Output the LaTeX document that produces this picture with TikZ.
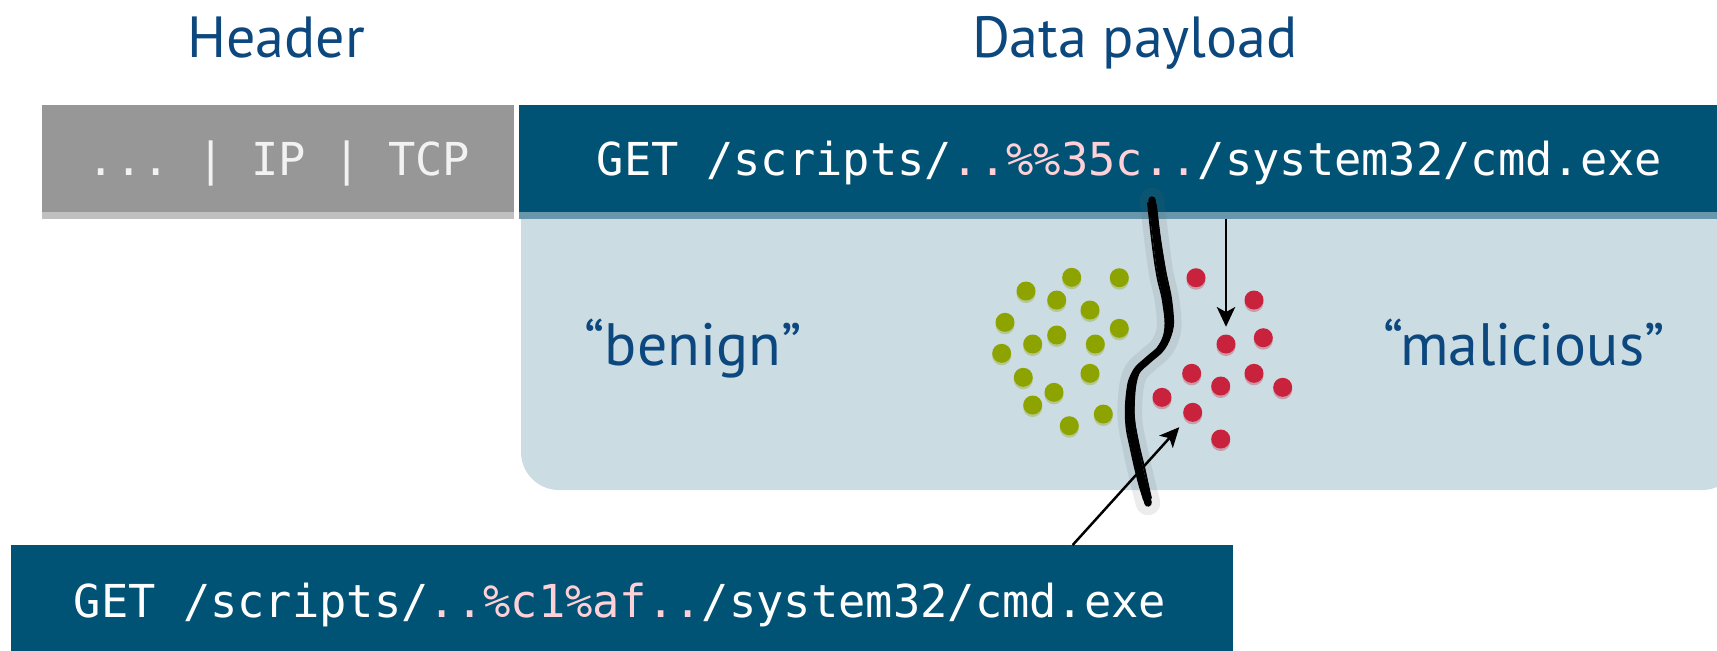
\documentclass[tikz,border=0pt]{standalone}
\usepackage{fontspec}
\setmainfont{PT Sans}
\setmonofont{DejaVu Sans Mono}
\usetikzlibrary{arrows.meta,calc}

\definecolor{barblue}{RGB}{0,83,116}
\definecolor{stripblue}{RGB}{104,151,171}
\definecolor{paneblue}{RGB}{203,220,227}
\definecolor{hdrgray}{RGB}{151,151,151}
\definecolor{stripgray}{RGB}{192,192,192}
\definecolor{titleblue}{RGB}{12,72,126}
\definecolor{hilite}{RGB}{255,208,216}
\definecolor{hdrtext}{RGB}{242,242,242}
\definecolor{benigngreen}{RGB}{141,164,0}
\definecolor{malred}{RGB}{200,34,60}

\tikzset{
  mono/.style={font=\fontsize{12.9}{15}\selectfont\ttfamily, anchor=base, inner sep=0pt},
  title/.style={font=\fontsize{16.5}{20}\selectfont, text=titleblue, anchor=base, inner sep=0pt},
  classlabel/.style={font=\fontsize{17}{21}\selectfont, text=titleblue, anchor=base, inner sep=0pt},
  panelbox/.style={anchor=north west, inner sep=0pt, outer sep=0pt},
  gdot/.style={circle, fill=benigngreen, minimum size=0.19cm, inner sep=0pt},
  rdot/.style={circle, fill=malred, minimum size=0.19cm, inner sep=0pt},
  conn/.style={-{Stealth[length=5.6pt,width=5.2pt,inset=1.4pt]}, line width=0.7pt, black},
  stroke/.style={black, line cap=round},
}

\begin{document}
\begin{tikzpicture}[x=0.01cm, y=-0.01cm]
\useasboundingbox (0,0) rectangle (1717,650);

% column titles
\node[title] (thdr) at (276,57) {Header};
\node[title] (tpay) at (1135,57) {Data payload};

% light panel below the payload bar
\fill[paneblue] (521,219) -- (521,452) arc[start angle=180, end angle=270, radius=0.38cm]
  -- (1702,490) arc[start angle=270, end angle=360, radius=0.38cm] -- (1740,219) -- cycle;

% header block
\node[panelbox, fill=stripgray, minimum width=4.72cm, minimum height=1.14cm] (hdr) at (41.5,105) {};
\fill[hdrgray] (hdr.north west) rectangle ([yshift=0.07cm]hdr.south east);
\node[mono, text=hdrtext] (hdrtxt) at (279,175) {... | IP | TCP};

% payload bar
\node[panelbox, fill=stripblue, minimum width=12.2cm, minimum height=1.14cm] (bar) at (519,105) {};
\fill[barblue] (bar.north west) rectangle ([yshift=0.07cm]bar.south east);
\node[mono, text=white] (bartxt) at (1129.5,175)
  {GET /scripts/{\color{hilite}..\%\%35c..}/system32/cmd.exe};

% class labels
\node[classlabel] (lben) at (693,365) {“benign”};
\node[classlabel] (lmal) at (1524,365) {“malicious”};

% benign samples
\foreach \x/\y [count=\i] in {1071.7/277.3, 1119.3/277.7, 1026/291, 1056.7/300, 1090/310,
    1005/322.3, 1119.3/328.3, 1056.7/335, 1032.7/344, 1095.3/344, 1001.7/353.3,
    1023.3/377.3, 1090/373.3, 1054/392.3, 1032.7/405, 1103.3/414, 1069.3/425.7} {
  \fill[benigngreen!35!paneblue] (\x,\y+2.5) circle (0.095cm);
  \node[gdot] (g\i) at (\x,\y) {};
}

% malicious samples
\foreach \x/\y [count=\i] in {1196/277.7, 1254/300, 1263.3/337.7, 1226/344, 1191.7/373.3,
    1254/373.3, 1220.7/386, 1282.7/387.3, 1162/397.3, 1192.7/412.3, 1220.7/439} {
  \fill[malred!35!paneblue] (\x,\y+2.5) circle (0.095cm);
  \node[rdot] (r\i) at (\x,\y) {};
}

% hand-drawn decision boundary: a soft halo, a core stroke and a few loose strands
\def\boundary{plot[smooth, tension=0.6] coordinates {(1152,200) (1156,235) (1161,272)
  (1167,300) (1169,328) (1162,347) (1148,360) (1136,372) (1131,390) (1130,420)
  (1135,448) (1141,475) (1148,503)}}
\draw[black!60, opacity=0.12, line width=7pt, line cap=round] \boundary;
\draw[stroke, line width=2.1pt] \boundary;
\draw[stroke, line width=0.5pt, xshift=-0.03cm] plot[smooth, tension=0.7] coordinates {(1151,203) (1155,240)
  (1160,275) (1166,302) (1168,330) (1160,349) (1147,362) (1135,374) (1130,392) (1129,422) (1134,450) (1141,480) (1147,500)};
\draw[stroke, line width=0.5pt, xshift=0.03cm] plot[smooth, tension=0.5] coordinates {(1153,205) (1157,238)
  (1162,270) (1168,298) (1170,326) (1163,345) (1149,358) (1137,370) (1132,388) (1131,418) (1136,446) (1142,472) (1148,498)};
\draw[stroke, line width=0.4pt, xshift=-0.018cm, opacity=0.8] plot[smooth, tension=0.55] coordinates {(1152,210) (1157,245)
  (1162,280) (1167,306) (1168,332) (1161,350) (1146,363) (1135,376) (1131,395) (1131,425) (1136,455) (1142,485)};
\draw[stroke, line width=0.4pt, xshift=0.02cm, opacity=0.8] plot[smooth, tension=0.65] coordinates {(1153,200) (1157,232)
  (1163,268) (1168,296) (1170,324) (1164,344) (1150,357) (1138,369) (1133,386) (1132,414) (1136,442) (1143,470) (1149,503)};

% bottom request
\node[panelbox, fill=barblue, minimum width=12.21cm, minimum height=1.1cm] (bot) at (11,545) {};
\node[mono, text=white] (bottxt) at (620,617)
  {GET /scripts/{\color{hilite}..\%c1\%af..}/system32/cmd.exe};

% arrows linking requests to their samples
\draw[conn, shorten >=2pt] (bar.south -| r4) -- (r4);
\draw[conn, shorten >=2.8pt] ($(bot.north west)!0.869!(bot.north east)$) -- (r10);
\end{tikzpicture}
\end{document}
